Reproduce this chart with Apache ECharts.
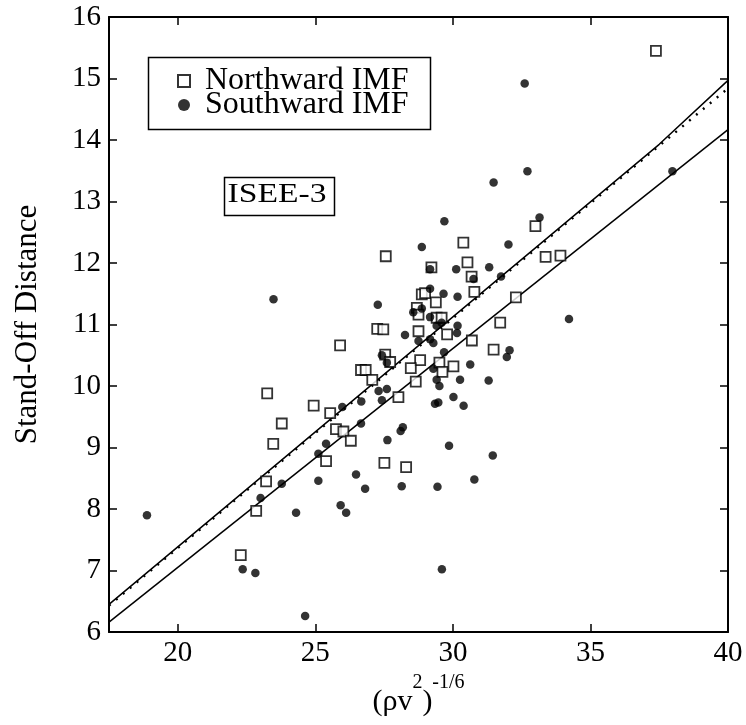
<!DOCTYPE html>
<html><head><meta charset="utf-8">
<script src="https://cdn.jsdelivr.net/npm/echarts@6/dist/echarts.min.js"></script>
<style>html,body{margin:0;padding:0;background:#fff}#c{width:746px;height:725px}</style>
</head><body><div id="c"></div>
<script>
const xTicks = [20, 25, 30, 35, 40];
const seriesNames = ['Northward IMF', 'Southward IMF'];
const northward = [[37.38,15.45],[33.0,12.6],[33.37,12.1],[33.91,12.12],[30.38,12.33],[27.56,12.11],[30.53,12.01],[29.22,11.93],[30.68,11.78],[30.78,11.53],[28.87,11.49],[28.99,11.51],[29.38,11.36],[28.69,11.27],[28.75,11.16],[29.41,11.11],[29.59,11.11],[31.72,11.03],[32.29,11.44],[27.25,10.93],[27.47,10.92],[28.75,10.89],[29.79,10.84],[30.69,10.74],[31.48,10.59],[25.9,10.66],[27.54,10.51],[27.72,10.39],[28.81,10.42],[28.47,10.29],[29.51,10.38],[29.62,10.23],[30.02,10.32],[28.65,10.07],[28.02,9.82],[26.66,10.26],[26.83,10.26],[27.07,10.1],[23.25,9.88],[24.94,9.68],[25.54,9.56],[23.78,9.39],[25.75,9.3],[26.02,9.26],[26.29,9.11],[23.47,9.06],[25.39,8.78],[27.51,8.75],[28.3,8.68],[23.21,8.45],[22.85,7.97],[22.29,7.25]];
const southward = [[32.61,14.92],[32.71,13.49],[31.48,13.31],[37.98,13.49],[29.69,12.68],[33.15,12.74],[28.87,12.26],[32.02,12.3],[29.17,11.9],[30.12,11.9],[31.32,11.93],[30.75,11.74],[31.75,11.78],[29.17,11.58],[29.66,11.5],[30.17,11.45],[28.56,11.2],[28.87,11.26],[27.27,11.32],[23.48,11.41],[29.17,11.12],[29.41,10.98],[29.59,11.03],[30.17,10.98],[30.15,10.86],[34.22,11.09],[28.26,10.83],[29.17,10.76],[29.29,10.7],[28.75,10.73],[32.06,10.58],[31.96,10.47],[27.42,10.5],[27.6,10.38],[29.68,10.55],[29.29,10.28],[30.63,10.35],[30.26,10.1],[31.3,10.09],[29.41,10.1],[29.51,10.0],[27.6,9.95],[27.3,9.92],[27.42,9.77],[30.02,9.82],[29.35,9.71],[29.47,9.73],[30.39,9.68],[28.18,9.33],[28.1,9.27],[27.62,9.12],[29.86,9.03],[31.45,8.87],[28.14,8.37],[29.44,8.36],[30.78,8.48],[29.6,7.02],[25.98,9.66],[26.67,9.75],[26.66,9.39],[25.39,9.06],[25.11,8.9],[23.78,8.41],[23.01,8.18],[25.11,8.46],[26.48,8.56],[26.81,8.33],[24.3,7.94],[25.92,8.06],[26.12,7.94],[22.36,7.02],[22.82,6.96],[24.63,6.26],[18.88,7.9]];
const fitUpper = [[17.5,6.45],[37.5,13.93],[40,14.97]];
const fitDotted = [[17.5,6.43],[40,14.84]];
const fitLower = [[17.5,6.16],[40,14.17]];

const FONT = '"Liberation Serif","Times New Roman",serif';
const chart = echarts.init(document.getElementById('c'), null, {renderer: 'canvas'});
const axisLine = {show: true, lineStyle: {color: '#000', width: 2}};
const tickIn = {show: true, inside: true, length: 8, lineStyle: {color: '#000', width: 1.5}};

chart.setOption({
  animation: false,
  backgroundColor: '#fff',
  grid: {left: 109, right: 18, top: 17, bottom: 93},
  xAxis: [{
    type: 'value', min: 17.5, max: 40, position: 'bottom',
    axisLine: axisLine, splitLine: {show: false},
    axisTick: Object.assign({customValues: xTicks}, tickIn),
    axisLabel: {customValues: xTicks, margin: 7, color: '#000', fontFamily: FONT, fontSize: 29},
    name: '{b|(ρv}{s|2}{b|)}{s|-1/6}', nameLocation: 'middle', nameGap: 41,
    nameTextStyle: {color: '#000', fontFamily: FONT, rich: {
      b: {fontSize: 30, lineHeight: 44, verticalAlign: 'bottom', fontFamily: FONT, color: '#000'},
      s: {fontSize: 20, lineHeight: 22, verticalAlign: 'top', fontFamily: FONT, color: '#000'}
    }}
  }, {
    type: 'value', min: 17.5, max: 40, position: 'top',
    axisLine: axisLine, splitLine: {show: false},
    axisTick: Object.assign({customValues: xTicks}, tickIn),
    axisLabel: {show: false}
  }],
  yAxis: [{
    type: 'value', min: 6, max: 16, interval: 1, position: 'left',
    axisLine: axisLine, splitLine: {show: false}, axisTick: tickIn,
    axisLabel: {margin: 8, color: '#000', fontFamily: FONT, fontSize: 29},
    name: 'Stand-Off Distance', nameLocation: 'middle', nameGap: 66, nameRotate: 90,
    nameTextStyle: {color: '#000', fontFamily: FONT, fontSize: 31}
  }, {
    type: 'value', min: 6, max: 16, interval: 1, position: 'right',
    axisLine: axisLine, splitLine: {show: false}, axisTick: tickIn,
    axisLabel: {show: false}
  }],
  legend: {
    data: seriesNames, orient: 'vertical', left: 172, top: 60,
    itemWidth: 12, itemHeight: 12, itemGap: -8, selectedMode: false,
    textStyle: {fontFamily: FONT, fontSize: 32, color: '#000', lineHeight: 25, padding: [0, 0, 0, 10]}
  },
  graphic: [
    {type: 'rect', left: 146, top: 55, shape: {width: 282, height: 72}, style: {fill: 'none', stroke: '#000', lineWidth: 1.5}, z: 10},
    {type: 'rect', left: 222, top: 175, shape: {width: 110, height: 38}, style: {fill: 'none', stroke: '#000', lineWidth: 1.5}, z: 10},
    {type: 'text', x: 277, y: 195, scaleX: 1.2, style: {text: 'ISEE-3', fontFamily: FONT, fontSize: 28, fill: '#000', align: 'center', verticalAlign: 'middle'}, z: 10}
  ],
  series: [
    {name: seriesNames[0], type: 'scatter', data: northward, symbol: 'rect', symbolSize: 10,
     itemStyle: {color: '#fff', borderColor: '#000', borderWidth: 1.8}, z: 5},
    {name: seriesNames[1], type: 'scatter', data: southward, symbol: 'circle', symbolSize: 8.5,
     itemStyle: {color: '#000'}, z: 6},
    {type: 'line', data: fitUpper, showSymbol: false, symbol: 'none', lineStyle: {color: '#000', width: 1.5}, z: 3},
    {type: 'line', data: fitDotted, showSymbol: false, symbol: 'none', lineStyle: {color: '#000', width: 2.4, type: [2, 7]}, z: 3},
    {type: 'line', data: fitLower, showSymbol: false, symbol: 'none', lineStyle: {color: '#000', width: 1.5}, z: 3}
  ]
});
</script></body></html>
